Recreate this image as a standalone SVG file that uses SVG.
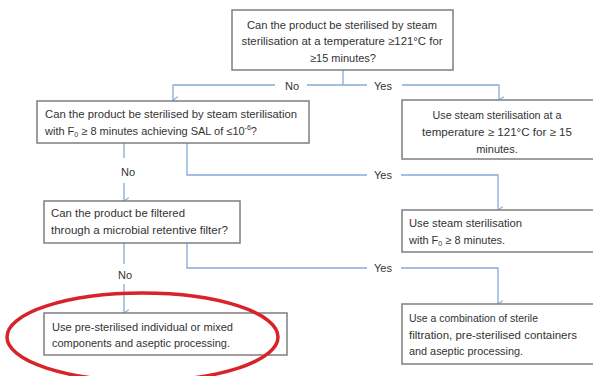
<svg xmlns="http://www.w3.org/2000/svg" width="593" height="376" viewBox="0 0 593 376">
<style>
.box{fill:#fff;stroke:#7f7f7f;stroke-width:1.5}
.t{font-family:"Liberation Sans",Arial,sans-serif;font-size:11px;fill:#333}
.c{text-anchor:middle}
.ln{fill:none;stroke:#86a9d8;stroke-width:1.3}
.sub{font-size:7px}
</style>
<defs>
<marker id="ah" viewBox="0 0 10 10" refX="5" refY="9" markerWidth="8" markerHeight="8" markerUnits="userSpaceOnUse" orient="auto-start-reverse">
<polyline points="1,3 5,9 9,3" fill="none" stroke="#86a9d8" stroke-width="1.3"/>
</marker>
</defs>
<rect width="593" height="376" fill="#fff"/>
<g id="connectors">
<polyline class="ln" points="343,70 343,85"/>
<polyline class="ln" points="275,85 173,85 173,100" marker-end="url(#ah)"/>
<polyline class="ln" points="307,85 367,85"/>
<polyline class="ln" points="402,85 499,85 499,100" marker-end="url(#ah)"/>
<polyline class="ln" points="124,143 124,158"/>
<polyline class="ln" points="124,183 124,201" marker-end="url(#ah)"/>
<polyline class="ln" points="187,143 187,175 367,175"/>
<polyline class="ln" points="401,175 498,175 498,210" marker-end="url(#ah)"/>
<polyline class="ln" points="124,243 124,264"/>
<polyline class="ln" points="124,284 124,313" marker-end="url(#ah)"/>
<polyline class="ln" points="187,243 187,268 367,268"/>
<polyline class="ln" points="401,268 498,268 498,304" marker-end="url(#ah)"/>
<text class="t c" x="292" y="89.5">No</text>
<text class="t c" x="383" y="89.5">Yes</text>
<text class="t c" x="128" y="176">No</text>
<text class="t c" x="383" y="179">Yes</text>
<text class="t c" x="125" y="279">No</text>
<text class="t c" x="383" y="272">Yes</text>
</g>
<g id="q1">
<rect class="box" x="232" y="10" width="221" height="60"/>
<text class="t c" x="342" y="28.5" textLength="190" lengthAdjust="spacingAndGlyphs">Can the product be sterilised by steam</text>
<text class="t c" x="342" y="45" textLength="201" lengthAdjust="spacingAndGlyphs">sterilisation at a temperature ≥121°C for</text>
<text class="t c" x="343" y="61.5">≥15 minutes?</text>
</g>
<g id="q2">
<rect class="box" x="37" y="101" width="272" height="42"/>
<text class="t" x="45" y="118" textLength="252" lengthAdjust="spacingAndGlyphs">Can the product be sterilised by steam sterilisation</text>
<text class="t" x="45" y="135" font-size="10.6">with F<tspan class="sub" dy="2">0</tspan><tspan dy="-2"> ≥ 8 minutes achieving SAL of ≤10</tspan><tspan class="sub" dy="-5">-6</tspan><tspan dy="5">?</tspan></text>
</g>
<g id="a1">
<rect class="box" x="402" y="100" width="200" height="59"/>
<text class="t c" x="497" y="119" textLength="129" lengthAdjust="spacingAndGlyphs">Use steam sterilisation at a</text>
<text class="t c" x="497" y="136" textLength="150" lengthAdjust="spacingAndGlyphs">temperature ≥ 121°C for ≥ 15</text>
<text class="t c" x="497" y="153">minutes.</text>
</g>
<g id="q3">
<rect class="box" x="44" y="201" width="196" height="42"/>
<text class="t" x="51" y="217" textLength="134" lengthAdjust="spacingAndGlyphs">Can the product be filtered</text>
<text class="t" x="51" y="234" textLength="177" lengthAdjust="spacingAndGlyphs">through a microbial retentive filter?</text>
</g>
<g id="a2">
<rect class="box" x="402" y="210" width="200" height="42"/>
<text class="t" x="409" y="227" textLength="113" lengthAdjust="spacingAndGlyphs">Use steam sterilisation</text>
<text class="t" x="409" y="244">with F<tspan class="sub" dy="2">0</tspan><tspan dy="-2"> ≥  8 minutes.</tspan></text>
</g>
<g id="a3">
<rect class="box" x="44" y="313" width="243" height="42"/>
<text class="t" x="52" y="331" textLength="181" lengthAdjust="spacingAndGlyphs">Use pre-sterilised individual  or mixed</text>
<text class="t" x="52" y="346.5" textLength="178" lengthAdjust="spacingAndGlyphs">components and aseptic processing.</text>
</g>
<g id="a4">
<rect class="box" x="402" y="304" width="200" height="60"/>
<text class="t" x="409" y="322" textLength="129" lengthAdjust="spacingAndGlyphs">Use a combination of sterile</text>
<text class="t" x="409" y="339" textLength="168" lengthAdjust="spacingAndGlyphs">filtration, pre-sterilised containers</text>
<text class="t" x="409" y="355" textLength="114" lengthAdjust="spacingAndGlyphs">and aseptic processing.</text>
</g>
<g id="highlight">
<ellipse cx="142.5" cy="337" rx="135.5" ry="44" fill="none" stroke="#d9232a" stroke-width="3.5"/>
</g>
</svg>
